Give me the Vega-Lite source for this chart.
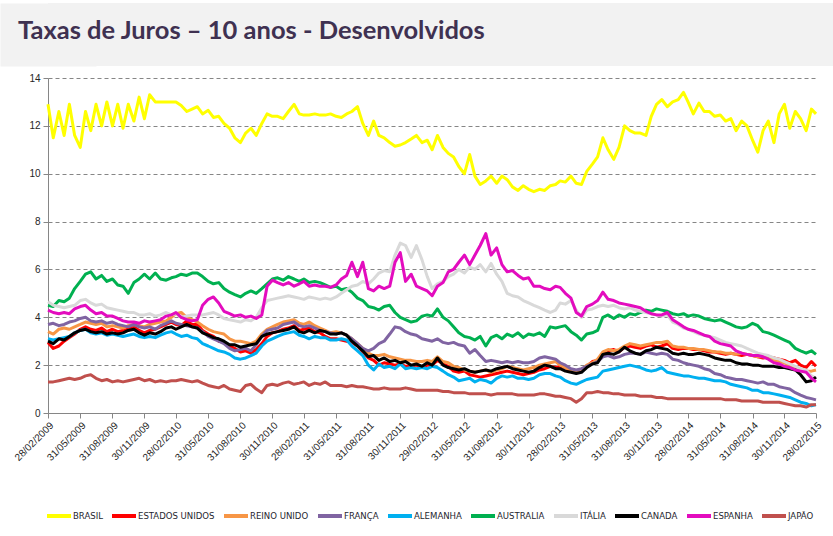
{
"$schema":"https://vega.github.io/schema/vega-lite/v6.json",
"padding":0,
"background":"white",
"config":{"view":{"stroke":null}},
"columns":1,
"spacing":7,
"resolve":{"scale":{"color":"independent"},"legend":{"color":"independent"}},
"concat":[
{
"width":785,"height":63,
"view":{"fill":"#f2f2f2","stroke":null},
"data":{"values":[{}]},
"mark":{"type":"point","opacity":0},
"encoding":{"y":{"datum":0,"type":"quantitative","axis":{"title":null,"labels":false,"ticks":false,"grid":false,"domain":true,"domainColor":"#f2f2f2","domainWidth":96,"domainCap":"butt","minExtent":0}}},
"title":{"text":"Taxas de Juros – 10 anos - Desenvolvidos","anchor":"start","frame":"group","dx":-30,"offset":-64,"font":"Lato","fontSize":25.5,"fontWeight":"bold","color":"#3f3151","baseline":"alphabetic"}
},
{
"width":768,"height":335,
"view":{"stroke":null},
"data":{"values":[
{"d":"2009-02-28","br":12.9,"us":2.95,"uk":3.4,"fr":3.7,"de":3.1,"au":4.5,"it":4.65,"ca":3.0,"es":4.3,"jp":1.3},
{"d":"2009-03-15","br":11.5,"us":2.7,"uk":3.3,"fr":3.75,"de":3.05,"au":4.45,"it":4.5,"ca":2.9,"es":4.2,"jp":1.3},
{"d":"2009-03-31","br":12.6,"us":2.8,"uk":3.5,"fr":3.65,"de":3.1,"au":4.7,"it":4.45,"ca":3.1,"es":4.15,"jp":1.35},
{"d":"2009-04-15","br":11.6,"us":3.0,"uk":3.55,"fr":3.7,"de":3.15,"au":4.65,"it":4.4,"ca":3.05,"es":4.2,"jp":1.4},
{"d":"2009-04-30","br":12.9,"us":3.15,"uk":3.5,"fr":3.8,"de":3.2,"au":4.8,"it":4.45,"ca":3.2,"es":4.15,"jp":1.45},
{"d":"2009-05-15","br":11.6,"us":3.3,"uk":3.6,"fr":3.85,"de":3.35,"au":5.2,"it":4.5,"ca":3.35,"es":4.35,"jp":1.4},
{"d":"2009-05-31","br":11.1,"us":3.5,"uk":3.7,"fr":3.95,"de":3.45,"au":5.5,"it":4.7,"ca":3.45,"es":4.45,"jp":1.45},
{"d":"2009-06-15","br":12.6,"us":3.6,"uk":3.8,"fr":4.0,"de":3.5,"au":5.8,"it":4.75,"ca":3.5,"es":4.5,"jp":1.55},
{"d":"2009-06-30","br":11.8,"us":3.5,"uk":3.75,"fr":3.85,"de":3.35,"au":5.9,"it":4.6,"ca":3.4,"es":4.3,"jp":1.6},
{"d":"2009-07-15","br":12.9,"us":3.45,"uk":3.7,"fr":3.8,"de":3.3,"au":5.6,"it":4.5,"ca":3.35,"es":4.15,"jp":1.45},
{"d":"2009-07-31","br":12.0,"us":3.55,"uk":3.75,"fr":3.85,"de":3.35,"au":5.75,"it":4.55,"ca":3.4,"es":4.2,"jp":1.35},
{"d":"2009-08-15","br":13.0,"us":3.4,"uk":3.6,"fr":3.75,"de":3.25,"au":5.5,"it":4.4,"ca":3.3,"es":4.05,"jp":1.4},
{"d":"2009-08-31","br":12.0,"us":3.5,"uk":3.65,"fr":3.8,"de":3.3,"au":5.6,"it":4.35,"ca":3.35,"es":4.05,"jp":1.3},
{"d":"2009-09-15","br":12.9,"us":3.4,"uk":3.6,"fr":3.7,"de":3.25,"au":5.35,"it":4.3,"ca":3.3,"es":3.95,"jp":1.35},
{"d":"2009-09-30","br":11.9,"us":3.45,"uk":3.55,"fr":3.65,"de":3.2,"au":5.3,"it":4.25,"ca":3.35,"es":3.85,"jp":1.3},
{"d":"2009-10-15","br":12.9,"us":3.5,"uk":3.65,"fr":3.6,"de":3.25,"au":5.0,"it":4.2,"ca":3.45,"es":3.8,"jp":1.35},
{"d":"2009-10-31","br":12.2,"us":3.6,"uk":3.7,"fr":3.7,"de":3.3,"au":5.45,"it":4.2,"ca":3.5,"es":3.8,"jp":1.4},
{"d":"2009-11-15","br":13.2,"us":3.45,"uk":3.65,"fr":3.6,"de":3.2,"au":5.6,"it":4.1,"ca":3.35,"es":3.75,"jp":1.45},
{"d":"2009-11-30","br":12.3,"us":3.35,"uk":3.6,"fr":3.55,"de":3.15,"au":5.8,"it":4.1,"ca":3.25,"es":3.85,"jp":1.35},
{"d":"2009-12-15","br":13.3,"us":3.45,"uk":3.7,"fr":3.6,"de":3.2,"au":5.6,"it":4.15,"ca":3.35,"es":3.8,"jp":1.4},
{"d":"2009-12-31","br":13.0,"us":3.5,"uk":3.75,"fr":3.5,"de":3.15,"au":5.85,"it":4.05,"ca":3.3,"es":3.85,"jp":1.3},
{"d":"2010-01-15","br":13.0,"us":3.6,"uk":3.8,"fr":3.65,"de":3.25,"au":5.6,"it":4.1,"ca":3.4,"es":3.9,"jp":1.35},
{"d":"2010-01-31","br":13.0,"us":3.7,"uk":3.85,"fr":3.75,"de":3.35,"au":5.55,"it":4.2,"ca":3.55,"es":4.05,"jp":1.3},
{"d":"2010-02-15","br":13.0,"us":3.8,"uk":4.0,"fr":3.85,"de":3.4,"au":5.65,"it":4.1,"ca":3.6,"es":4.1,"jp":1.35},
{"d":"2010-02-28","br":13.0,"us":3.7,"uk":4.15,"fr":3.75,"de":3.3,"au":5.7,"it":4.15,"ca":3.5,"es":4.2,"jp":1.35},
{"d":"2010-03-15","br":12.85,"us":3.65,"uk":4.2,"fr":3.7,"de":3.2,"au":5.8,"it":4.0,"ca":3.6,"es":4.0,"jp":1.4},
{"d":"2010-03-31","br":12.6,"us":3.85,"uk":4.0,"fr":3.65,"de":3.25,"au":5.75,"it":4.05,"ca":3.7,"es":3.9,"jp":1.35},
{"d":"2010-04-15","br":12.7,"us":3.7,"uk":3.9,"fr":3.6,"de":3.15,"au":5.85,"it":4.1,"ca":3.6,"es":3.85,"jp":1.3},
{"d":"2010-04-30","br":12.8,"us":3.7,"uk":3.8,"fr":3.55,"de":3.1,"au":5.85,"it":4.1,"ca":3.55,"es":3.9,"jp":1.35},
{"d":"2010-05-15","br":12.5,"us":3.45,"uk":3.65,"fr":3.4,"de":2.9,"au":5.7,"it":4.1,"ca":3.35,"es":4.5,"jp":1.25},
{"d":"2010-05-31","br":12.65,"us":3.3,"uk":3.5,"fr":3.2,"de":2.8,"au":5.5,"it":4.15,"ca":3.25,"es":4.75,"jp":1.15},
{"d":"2010-06-15","br":12.35,"us":3.2,"uk":3.4,"fr":3.1,"de":2.7,"au":5.4,"it":4.2,"ca":3.15,"es":4.85,"jp":1.1},
{"d":"2010-06-30","br":12.4,"us":3.0,"uk":3.35,"fr":3.0,"de":2.6,"au":5.45,"it":4.1,"ca":3.1,"es":4.6,"jp":1.05},
{"d":"2010-07-15","br":12.1,"us":2.95,"uk":3.3,"fr":2.9,"de":2.55,"au":5.2,"it":3.95,"ca":3.0,"es":4.25,"jp":1.15},
{"d":"2010-07-31","br":11.9,"us":2.8,"uk":3.1,"fr":2.7,"de":2.45,"au":5.05,"it":3.9,"ca":2.85,"es":4.15,"jp":1.0},
{"d":"2010-08-15","br":11.5,"us":2.7,"uk":3.0,"fr":2.6,"de":2.3,"au":4.95,"it":3.85,"ca":2.85,"es":4.05,"jp":0.95},
{"d":"2010-08-31","br":11.3,"us":2.55,"uk":3.0,"fr":2.65,"de":2.25,"au":4.85,"it":3.8,"ca":2.75,"es":4.1,"jp":0.9},
{"d":"2010-09-15","br":11.7,"us":2.6,"uk":2.95,"fr":2.7,"de":2.3,"au":5.0,"it":3.9,"ca":2.8,"es":4.0,"jp":1.15},
{"d":"2010-09-30","br":11.9,"us":2.5,"uk":2.9,"fr":2.6,"de":2.4,"au":5.1,"it":3.85,"ca":2.85,"es":4.05,"jp":1.2},
{"d":"2010-10-15","br":11.6,"us":2.65,"uk":3.0,"fr":2.85,"de":2.5,"au":5.0,"it":4.0,"ca":2.9,"es":3.95,"jp":1.0},
{"d":"2010-10-31","br":12.1,"us":2.9,"uk":3.3,"fr":3.2,"de":2.8,"au":5.2,"it":4.4,"ca":3.2,"es":4.1,"jp":0.85},
{"d":"2010-11-15","br":12.5,"us":3.2,"uk":3.5,"fr":3.45,"de":3.0,"au":5.4,"it":4.7,"ca":3.3,"es":5.3,"jp":1.15},
{"d":"2010-11-30","br":12.4,"us":3.35,"uk":3.6,"fr":3.5,"de":3.1,"au":5.6,"it":4.75,"ca":3.35,"es":5.55,"jp":1.2},
{"d":"2010-12-15","br":12.4,"us":3.4,"uk":3.7,"fr":3.55,"de":3.2,"au":5.65,"it":4.8,"ca":3.4,"es":5.45,"jp":1.15},
{"d":"2010-12-31","br":12.3,"us":3.5,"uk":3.8,"fr":3.7,"de":3.3,"au":5.55,"it":4.85,"ca":3.45,"es":5.35,"jp":1.25},
{"d":"2011-01-15","br":12.6,"us":3.55,"uk":3.85,"fr":3.75,"de":3.35,"au":5.7,"it":4.9,"ca":3.5,"es":5.45,"jp":1.3},
{"d":"2011-01-31","br":12.9,"us":3.65,"uk":3.9,"fr":3.8,"de":3.4,"au":5.6,"it":4.85,"ca":3.6,"es":5.3,"jp":1.2},
{"d":"2011-02-15","br":12.5,"us":3.45,"uk":3.75,"fr":3.65,"de":3.25,"au":5.5,"it":4.8,"ca":3.4,"es":5.4,"jp":1.25},
{"d":"2011-02-28","br":12.45,"us":3.5,"uk":3.7,"fr":3.6,"de":3.2,"au":5.6,"it":4.75,"ca":3.35,"es":5.5,"jp":1.3},
{"d":"2011-03-15","br":12.45,"us":3.55,"uk":3.8,"fr":3.65,"de":3.1,"au":5.45,"it":4.85,"ca":3.45,"es":5.3,"jp":1.15},
{"d":"2011-03-31","br":12.5,"us":3.4,"uk":3.65,"fr":3.55,"de":3.2,"au":5.5,"it":4.8,"ca":3.35,"es":5.35,"jp":1.25},
{"d":"2011-04-15","br":12.45,"us":3.35,"uk":3.55,"fr":3.45,"de":3.15,"au":5.45,"it":4.75,"ca":3.45,"es":5.3,"jp":1.2},
{"d":"2011-04-30","br":12.45,"us":3.2,"uk":3.45,"fr":3.4,"de":3.15,"au":5.35,"it":4.8,"ca":3.4,"es":5.3,"jp":1.3},
{"d":"2011-05-15","br":12.5,"us":3.1,"uk":3.35,"fr":3.35,"de":3.05,"au":5.25,"it":4.75,"ca":3.3,"es":5.25,"jp":1.15},
{"d":"2011-05-31","br":12.4,"us":3.1,"uk":3.4,"fr":3.3,"de":3.05,"au":5.3,"it":4.85,"ca":3.3,"es":5.35,"jp":1.15},
{"d":"2011-06-15","br":12.35,"us":3.05,"uk":3.35,"fr":3.35,"de":3.1,"au":5.15,"it":5.0,"ca":3.35,"es":5.6,"jp":1.15},
{"d":"2011-06-30","br":12.5,"us":3.0,"uk":3.25,"fr":3.25,"de":3.05,"au":5.2,"it":5.15,"ca":3.25,"es":5.75,"jp":1.1},
{"d":"2011-07-15","br":12.6,"us":2.95,"uk":3.1,"fr":3.1,"de":2.8,"au":5.05,"it":5.3,"ca":3.0,"es":6.3,"jp":1.15},
{"d":"2011-07-31","br":12.8,"us":2.8,"uk":2.9,"fr":2.9,"de":2.6,"au":4.8,"it":5.35,"ca":2.8,"es":5.7,"jp":1.1},
{"d":"2011-08-15","br":12.1,"us":2.55,"uk":2.7,"fr":2.7,"de":2.4,"au":4.7,"it":5.5,"ca":2.6,"es":6.3,"jp":1.1},
{"d":"2011-08-31","br":11.6,"us":2.3,"uk":2.5,"fr":2.6,"de":2.0,"au":4.45,"it":5.4,"ca":2.35,"es":5.2,"jp":1.05},
{"d":"2011-09-15","br":12.2,"us":2.2,"uk":2.4,"fr":2.7,"de":1.8,"au":4.4,"it":5.6,"ca":2.4,"es":5.1,"jp":1.0},
{"d":"2011-09-30","br":11.6,"us":2.0,"uk":2.4,"fr":2.9,"de":2.05,"au":4.3,"it":5.85,"ca":2.2,"es":5.3,"jp":1.0},
{"d":"2011-10-15","br":11.5,"us":2.1,"uk":2.45,"fr":3.0,"de":1.9,"au":4.45,"it":5.95,"ca":2.3,"es":5.2,"jp":1.05},
{"d":"2011-10-31","br":11.3,"us":2.05,"uk":2.35,"fr":3.3,"de":1.95,"au":4.5,"it":5.9,"ca":2.15,"es":5.3,"jp":1.0},
{"d":"2011-11-15","br":11.15,"us":2.0,"uk":2.3,"fr":3.6,"de":1.85,"au":4.2,"it":6.6,"ca":2.2,"es":6.3,"jp":1.0},
{"d":"2011-11-30","br":11.2,"us":2.05,"uk":2.25,"fr":3.55,"de":2.05,"au":4.0,"it":7.1,"ca":2.1,"es":6.7,"jp":1.0},
{"d":"2011-12-15","br":11.3,"us":1.95,"uk":2.2,"fr":3.4,"de":1.85,"au":3.9,"it":7.0,"ca":2.15,"es":5.5,"jp":1.05},
{"d":"2011-12-31","br":11.45,"us":1.95,"uk":2.2,"fr":3.3,"de":1.9,"au":3.8,"it":6.5,"ca":2.0,"es":5.8,"jp":1.0},
{"d":"2012-01-15","br":11.6,"us":2.0,"uk":2.15,"fr":3.25,"de":1.85,"au":3.85,"it":7.0,"ca":2.05,"es":5.3,"jp":0.95},
{"d":"2012-01-31","br":11.3,"us":1.9,"uk":2.15,"fr":3.1,"de":1.9,"au":4.05,"it":6.4,"ca":1.95,"es":5.2,"jp":0.95},
{"d":"2012-02-15","br":11.4,"us":2.0,"uk":2.2,"fr":3.05,"de":1.85,"au":4.1,"it":5.7,"ca":2.1,"es":5.1,"jp":0.95},
{"d":"2012-02-29","br":11.0,"us":2.0,"uk":2.15,"fr":3.0,"de":1.95,"au":4.05,"it":5.2,"ca":2.0,"es":4.9,"jp":0.95},
{"d":"2012-03-15","br":11.6,"us":2.2,"uk":2.35,"fr":3.1,"de":1.9,"au":4.35,"it":5.4,"ca":2.3,"es":5.3,"jp":0.95},
{"d":"2012-03-31","br":11.1,"us":2.05,"uk":2.15,"fr":2.95,"de":1.75,"au":4.0,"it":5.5,"ca":2.0,"es":5.45,"jp":0.9},
{"d":"2012-04-15","br":10.85,"us":1.95,"uk":2.1,"fr":2.9,"de":1.6,"au":3.85,"it":5.7,"ca":1.9,"es":5.9,"jp":0.9},
{"d":"2012-04-30","br":10.7,"us":1.75,"uk":1.95,"fr":2.95,"de":1.5,"au":3.6,"it":5.8,"ca":1.85,"es":6.0,"jp":0.85},
{"d":"2012-05-15","br":10.3,"us":1.7,"uk":1.9,"fr":2.85,"de":1.35,"au":3.35,"it":6.0,"ca":1.8,"es":6.3,"jp":0.85},
{"d":"2012-05-31","br":10.0,"us":1.75,"uk":1.8,"fr":2.8,"de":1.4,"au":3.2,"it":5.85,"ca":1.85,"es":6.6,"jp":0.85},
{"d":"2012-06-15","br":10.8,"us":1.6,"uk":1.75,"fr":2.5,"de":1.45,"au":3.15,"it":6.1,"ca":1.75,"es":6.2,"jp":0.8},
{"d":"2012-06-30","br":9.9,"us":1.55,"uk":1.7,"fr":2.65,"de":1.3,"au":3.05,"it":6.0,"ca":1.7,"es":6.6,"jp":0.8},
{"d":"2012-07-15","br":9.55,"us":1.5,"uk":1.75,"fr":2.4,"de":1.4,"au":3.2,"it":6.2,"ca":1.75,"es":7.0,"jp":0.8},
{"d":"2012-07-31","br":9.7,"us":1.55,"uk":1.8,"fr":2.15,"de":1.35,"au":2.8,"it":5.9,"ca":1.8,"es":7.5,"jp":0.8},
{"d":"2012-08-15","br":9.9,"us":1.6,"uk":1.7,"fr":2.2,"de":1.25,"au":3.15,"it":6.25,"ca":1.75,"es":6.6,"jp":0.75},
{"d":"2012-08-31","br":9.6,"us":1.65,"uk":1.8,"fr":2.15,"de":1.45,"au":3.25,"it":5.8,"ca":1.85,"es":6.9,"jp":0.8},
{"d":"2012-09-15","br":9.9,"us":1.7,"uk":1.85,"fr":2.1,"de":1.55,"au":3.1,"it":5.5,"ca":1.9,"es":6.2,"jp":0.8},
{"d":"2012-09-30","br":9.75,"us":1.75,"uk":1.95,"fr":2.15,"de":1.5,"au":3.3,"it":5.0,"ca":1.95,"es":5.9,"jp":0.8},
{"d":"2012-10-15","br":9.45,"us":1.7,"uk":1.9,"fr":2.1,"de":1.55,"au":3.2,"it":4.9,"ca":1.85,"es":5.95,"jp":0.8},
{"d":"2012-10-31","br":9.3,"us":1.65,"uk":1.85,"fr":2.15,"de":1.45,"au":3.35,"it":4.85,"ca":1.8,"es":5.75,"jp":0.75},
{"d":"2012-11-15","br":9.5,"us":1.6,"uk":1.8,"fr":2.1,"de":1.45,"au":3.15,"it":4.7,"ca":1.75,"es":5.6,"jp":0.75},
{"d":"2012-11-30","br":9.35,"us":1.65,"uk":1.85,"fr":2.1,"de":1.4,"au":3.3,"it":4.6,"ca":1.7,"es":5.65,"jp":0.75},
{"d":"2012-12-15","br":9.25,"us":1.7,"uk":1.9,"fr":2.15,"de":1.45,"au":3.25,"it":4.5,"ca":1.75,"es":5.3,"jp":0.75},
{"d":"2012-12-31","br":9.35,"us":1.8,"uk":2.0,"fr":2.3,"de":1.6,"au":3.35,"it":4.4,"ca":1.9,"es":5.3,"jp":0.8},
{"d":"2013-01-15","br":9.3,"us":1.85,"uk":2.05,"fr":2.35,"de":1.65,"au":3.2,"it":4.3,"ca":2.0,"es":5.2,"jp":0.8},
{"d":"2013-01-31","br":9.5,"us":1.95,"uk":2.1,"fr":2.3,"de":1.65,"au":3.6,"it":4.2,"ca":1.95,"es":5.15,"jp":0.75},
{"d":"2013-02-15","br":9.55,"us":1.9,"uk":2.15,"fr":2.25,"de":1.55,"au":3.55,"it":4.3,"ca":1.85,"es":5.3,"jp":0.7},
{"d":"2013-02-28","br":9.7,"us":1.95,"uk":2.0,"fr":2.1,"de":1.5,"au":3.6,"it":4.6,"ca":1.85,"es":5.25,"jp":0.7},
{"d":"2013-03-15","br":9.65,"us":1.9,"uk":1.9,"fr":2.0,"de":1.35,"au":3.65,"it":4.55,"ca":1.75,"es":5.0,"jp":0.65},
{"d":"2013-03-31","br":9.9,"us":1.75,"uk":1.8,"fr":1.85,"de":1.25,"au":3.4,"it":4.7,"ca":1.7,"es":4.8,"jp":0.6},
{"d":"2013-04-15","br":9.6,"us":1.7,"uk":1.75,"fr":1.8,"de":1.2,"au":3.25,"it":4.3,"ca":1.65,"es":4.2,"jp":0.45},
{"d":"2013-04-30","br":9.55,"us":1.75,"uk":1.8,"fr":1.85,"de":1.3,"au":3.05,"it":4.0,"ca":1.7,"es":4.05,"jp":0.6},
{"d":"2013-05-15","br":10.1,"us":1.95,"uk":2.0,"fr":1.95,"de":1.4,"au":3.3,"it":4.3,"ca":1.9,"es":4.45,"jp":0.85},
{"d":"2013-05-31","br":10.4,"us":2.15,"uk":2.1,"fr":2.05,"de":1.45,"au":3.35,"it":4.35,"ca":2.05,"es":4.55,"jp":0.85},
{"d":"2013-06-15","br":10.7,"us":2.2,"uk":2.25,"fr":2.15,"de":1.5,"au":3.45,"it":4.45,"ca":2.1,"es":4.7,"jp":0.9},
{"d":"2013-06-30","br":11.5,"us":2.5,"uk":2.55,"fr":2.35,"de":1.75,"au":4.0,"it":4.5,"ca":2.45,"es":5.05,"jp":0.85},
{"d":"2013-07-15","br":11.0,"us":2.6,"uk":2.65,"fr":2.4,"de":1.8,"au":4.1,"it":4.45,"ca":2.5,"es":4.75,"jp":0.85},
{"d":"2013-07-31","br":10.6,"us":2.65,"uk":2.6,"fr":2.3,"de":1.85,"au":3.95,"it":4.5,"ca":2.45,"es":4.7,"jp":0.8},
{"d":"2013-08-15","br":11.1,"us":2.55,"uk":2.65,"fr":2.35,"de":1.9,"au":4.1,"it":4.4,"ca":2.55,"es":4.6,"jp":0.8},
{"d":"2013-08-31","br":12.0,"us":2.75,"uk":2.8,"fr":2.45,"de":1.95,"au":4.0,"it":4.35,"ca":2.75,"es":4.55,"jp":0.75},
{"d":"2013-09-15","br":11.8,"us":2.8,"uk":2.9,"fr":2.5,"de":2.0,"au":4.15,"it":4.4,"ca":2.6,"es":4.5,"jp":0.75},
{"d":"2013-09-30","br":11.7,"us":2.75,"uk":2.85,"fr":2.5,"de":1.95,"au":4.1,"it":4.3,"ca":2.5,"es":4.45,"jp":0.75},
{"d":"2013-10-15","br":11.7,"us":2.7,"uk":2.8,"fr":2.45,"de":1.9,"au":4.2,"it":4.25,"ca":2.45,"es":4.4,"jp":0.7},
{"d":"2013-10-31","br":11.6,"us":2.8,"uk":2.85,"fr":2.55,"de":1.8,"au":4.3,"it":4.2,"ca":2.6,"es":4.25,"jp":0.7},
{"d":"2013-11-15","br":12.4,"us":2.85,"uk":2.9,"fr":2.5,"de":1.75,"au":4.25,"it":4.15,"ca":2.65,"es":4.15,"jp":0.7},
{"d":"2013-11-30","br":12.9,"us":2.75,"uk":2.95,"fr":2.45,"de":1.8,"au":4.35,"it":4.1,"ca":2.75,"es":4.1,"jp":0.65},
{"d":"2013-12-15","br":13.1,"us":2.8,"uk":2.95,"fr":2.5,"de":1.9,"au":4.3,"it":4.05,"ca":2.7,"es":4.1,"jp":0.65},
{"d":"2013-12-31","br":12.8,"us":2.9,"uk":3.0,"fr":2.45,"de":1.7,"au":4.25,"it":4.1,"ca":2.65,"es":4.2,"jp":0.6},
{"d":"2014-01-15","br":13.0,"us":2.7,"uk":2.8,"fr":2.25,"de":1.65,"au":4.15,"it":3.8,"ca":2.5,"es":3.9,"jp":0.6},
{"d":"2014-01-31","br":13.1,"us":2.65,"uk":2.75,"fr":2.2,"de":1.6,"au":4.1,"it":3.7,"ca":2.45,"es":3.75,"jp":0.6},
{"d":"2014-02-15","br":13.4,"us":2.7,"uk":2.75,"fr":2.1,"de":1.55,"au":4.15,"it":3.55,"ca":2.5,"es":3.6,"jp":0.6},
{"d":"2014-02-28","br":13.0,"us":2.7,"uk":2.7,"fr":2.05,"de":1.55,"au":4.05,"it":3.5,"ca":2.45,"es":3.5,"jp":0.6},
{"d":"2014-03-15","br":12.5,"us":2.65,"uk":2.7,"fr":2.0,"de":1.5,"au":4.1,"it":3.4,"ca":2.45,"es":3.45,"jp":0.6},
{"d":"2014-03-31","br":12.95,"us":2.65,"uk":2.65,"fr":1.95,"de":1.45,"au":4.05,"it":3.3,"ca":2.5,"es":3.35,"jp":0.6},
{"d":"2014-04-15","br":12.6,"us":2.6,"uk":2.65,"fr":1.85,"de":1.45,"au":3.95,"it":3.25,"ca":2.45,"es":3.25,"jp":0.6},
{"d":"2014-04-30","br":12.6,"us":2.55,"uk":2.6,"fr":1.8,"de":1.4,"au":3.9,"it":3.2,"ca":2.4,"es":3.2,"jp":0.6},
{"d":"2014-05-15","br":12.4,"us":2.55,"uk":2.55,"fr":1.65,"de":1.35,"au":3.85,"it":3.15,"ca":2.3,"es":3.0,"jp":0.6},
{"d":"2014-05-31","br":12.45,"us":2.5,"uk":2.55,"fr":1.6,"de":1.35,"au":3.9,"it":3.05,"ca":2.25,"es":2.9,"jp":0.6},
{"d":"2014-06-15","br":12.2,"us":2.45,"uk":2.5,"fr":1.5,"de":1.3,"au":3.8,"it":2.95,"ca":2.2,"es":2.85,"jp":0.55},
{"d":"2014-06-30","br":12.3,"us":2.5,"uk":2.5,"fr":1.45,"de":1.2,"au":3.7,"it":2.9,"ca":2.2,"es":2.8,"jp":0.55},
{"d":"2014-07-15","br":11.8,"us":2.45,"uk":2.45,"fr":1.4,"de":1.15,"au":3.6,"it":2.85,"ca":2.1,"es":2.6,"jp":0.55},
{"d":"2014-07-31","br":12.2,"us":2.4,"uk":2.5,"fr":1.4,"de":1.1,"au":3.55,"it":2.8,"ca":2.05,"es":2.5,"jp":0.5},
{"d":"2014-08-15","br":12.0,"us":2.45,"uk":2.45,"fr":1.35,"de":1.05,"au":3.6,"it":2.7,"ca":2.05,"es":2.45,"jp":0.5},
{"d":"2014-08-31","br":11.4,"us":2.4,"uk":2.4,"fr":1.3,"de":0.95,"au":3.75,"it":2.6,"ca":2.0,"es":2.4,"jp":0.5},
{"d":"2014-09-15","br":10.9,"us":2.35,"uk":2.35,"fr":1.25,"de":0.95,"au":3.65,"it":2.5,"ca":2.0,"es":2.4,"jp":0.5},
{"d":"2014-09-30","br":11.8,"us":2.3,"uk":2.35,"fr":1.3,"de":0.85,"au":3.4,"it":2.45,"ca":1.95,"es":2.35,"jp":0.45},
{"d":"2014-10-15","br":12.2,"us":2.35,"uk":2.3,"fr":1.2,"de":0.85,"au":3.35,"it":2.4,"ca":1.95,"es":2.25,"jp":0.45},
{"d":"2014-10-31","br":11.3,"us":2.3,"uk":2.2,"fr":1.2,"de":0.8,"au":3.25,"it":2.3,"ca":1.95,"es":2.1,"jp":0.45},
{"d":"2014-11-15","br":12.5,"us":2.25,"uk":2.15,"fr":1.1,"de":0.75,"au":3.15,"it":2.25,"ca":1.9,"es":2.05,"jp":0.45},
{"d":"2014-11-30","br":12.9,"us":2.2,"uk":2.1,"fr":1.05,"de":0.7,"au":3.05,"it":2.15,"ca":1.9,"es":1.95,"jp":0.4},
{"d":"2014-12-15","br":11.9,"us":2.1,"uk":1.95,"fr":1.0,"de":0.65,"au":2.95,"it":2.05,"ca":1.85,"es":1.9,"jp":0.35},
{"d":"2014-12-31","br":12.6,"us":2.2,"uk":1.9,"fr":0.85,"de":0.55,"au":2.7,"it":1.95,"ca":1.8,"es":1.8,"jp":0.3},
{"d":"2015-01-15","br":12.3,"us":2.0,"uk":1.8,"fr":0.75,"de":0.45,"au":2.6,"it":1.85,"ca":1.6,"es":1.75,"jp":0.3},
{"d":"2015-01-31","br":11.8,"us":1.9,"uk":1.75,"fr":0.65,"de":0.4,"au":2.5,"it":1.8,"ca":1.3,"es":1.7,"jp":0.25},
{"d":"2015-02-15","br":12.7,"us":2.15,"uk":1.75,"fr":0.6,"de":0.3,"au":2.6,"it":1.55,"ca":1.35,"es":1.45,"jp":0.35},
{"d":"2015-02-28","br":12.5,"us":1.95,"uk":1.8,"fr":0.55,"de":0.35,"au":2.45,"it":1.45,"ca":1.5,"es":1.3,"jp":0.35}
]},
"transform":[
{"fold":["br","us","uk","fr","de","au","it","ca","es","jp"],"as":["s","taxa"]},
{"lookup":"s","from":{"data":{"values":[
{"s":"br","pais":"BRASIL"},{"s":"us","pais":"ESTADOS UNIDOS"},{"s":"uk","pais":"REINO UNIDO"},{"s":"fr","pais":"FRANÇA"},{"s":"de","pais":"ALEMANHA"},
{"s":"au","pais":"AUSTRALIA"},{"s":"it","pais":"ITÁLIA"},{"s":"ca","pais":"CANADA"},{"s":"es","pais":"ESPANHA"},{"s":"jp","pais":"JAPÃO"}]},"key":"s","fields":["pais"]}}
],
"mark":{"type":"line","strokeWidth":3,"strokeJoin":"round"},
"encoding":{
"x":{"field":"d","type":"temporal",
"scale":{"type":"utc","domain":[{"year":2009,"month":2,"date":28,"utc":true},{"year":2015,"month":2,"date":28,"utc":true}]},
"axis":{"title":null,"format":"%d/%m/%Y","labelAngle":-45,"labelOverlap":false,"grid":false,
"values":[
{"year":2009,"month":2,"date":28,"utc":true},{"year":2009,"month":5,"date":31,"utc":true},{"year":2009,"month":8,"date":31,"utc":true},{"year":2009,"month":11,"date":30,"utc":true},
{"year":2010,"month":2,"date":28,"utc":true},{"year":2010,"month":5,"date":31,"utc":true},{"year":2010,"month":8,"date":31,"utc":true},{"year":2010,"month":11,"date":30,"utc":true},
{"year":2011,"month":2,"date":28,"utc":true},{"year":2011,"month":5,"date":31,"utc":true},{"year":2011,"month":8,"date":31,"utc":true},{"year":2011,"month":11,"date":30,"utc":true},
{"year":2012,"month":2,"date":29,"utc":true},{"year":2012,"month":5,"date":31,"utc":true},{"year":2012,"month":8,"date":31,"utc":true},{"year":2012,"month":11,"date":30,"utc":true},
{"year":2013,"month":2,"date":28,"utc":true},{"year":2013,"month":5,"date":31,"utc":true},{"year":2013,"month":8,"date":31,"utc":true},{"year":2013,"month":11,"date":30,"utc":true},
{"year":2014,"month":2,"date":28,"utc":true},{"year":2014,"month":5,"date":31,"utc":true},{"year":2014,"month":8,"date":31,"utc":true},{"year":2014,"month":11,"date":30,"utc":true},
{"year":2015,"month":2,"date":28,"utc":true}],
"domainColor":"#868686","tickColor":"#868686","tickSize":5,"labelFont":"Liberation Sans","labelFontSize":10,"labelColor":"#262626","labelPadding":2}},
"y":{"field":"taxa","type":"quantitative","scale":{"domain":[0,14],"nice":false},
"axis":{"title":null,"values":[0,2,4,6,8,10,12,14],"grid":true,"gridDash":[4,3],"gridColor":"#868686","domainColor":"#868686","tickColor":"#868686","tickSize":5,"labelPadding":3,"labelFont":"Liberation Sans","labelFontSize":10,"labelColor":"#262626","minExtent":48}},
"color":{"field":"pais","type":"nominal",
"scale":{"domain":["BRASIL","ESTADOS UNIDOS","REINO UNIDO","FRANÇA","ALEMANHA","AUSTRALIA","ITÁLIA","CANADA","ESPANHA","JAPÃO"],
"range":["#ffff00","#ff0000","#f79646","#8064a2","#00b0f0","#00b050","#d9d9d9","#000000","#e30cbe","#c0504d"]},
"legend":{"title":null,"orient":"none","legendX":-3,"legendY":424,"direction":"horizontal","columns":10,"symbolType":"stroke","symbolStrokeWidth":4,"symbolSize":576,"labelFont":"Liberation Sans Narrow, DejaVu Sans Condensed, Arial Narrow, sans-serif","labelFontSize":9.5,"labelColor":"#1f1f2f","labelOffset":0,"columnPadding":1,"padding":0}}
}
}
]
}
